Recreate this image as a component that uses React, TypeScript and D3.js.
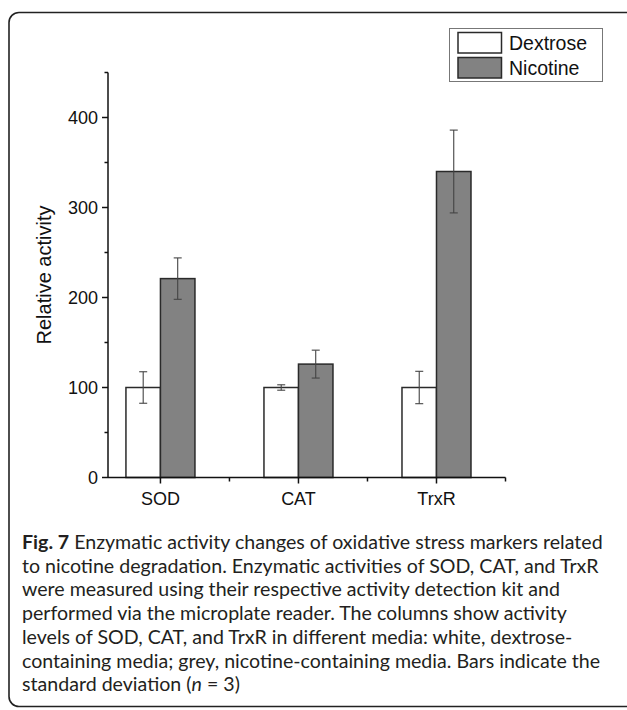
import React, { useEffect, useRef } from 'react';
import * as d3 from 'd3';

// data
const categories = ['SOD', 'CAT', 'TrxR'];
const dextrose = [100, 100, 100];
const dextroseSd = [17.5, 3, 18];
const nicotine = [221, 126, 340];
const nicotineSd = [23, 15.5, 46];
const seriesNames = ['Dextrose', 'Nicotine'];
const seriesFills = ['#ffffff', '#828282'];
const yMajorTicks = [0, 100, 200, 300, 400];
const yMinorTicks = [50, 150, 250, 350, 450];
const xMinorTicks = [1.5, 2.5, 3.5];

const captionLines = [
  'Enzymatic activity changes of oxidative stress markers related',
  'to nicotine degradation. Enzymatic activities of SOD, CAT, and TrxR',
  'were measured using their respective activity detection kit and',
  'performed via the microplate reader. The columns show activity',
  'levels of SOD, CAT, and TrxR in different media: white, dextrose-',
  'containing media; grey, nicotine-containing media. Bars indicate the',
];

const App = () => {
  const chart = useRef<SVGSVGElement>(null);

  useEffect(() => {
    const svg = d3.select(chart.current);
    svg.selectAll('*').remove();

    const font = 'Liberation Sans, Arial, sans-serif';

    // frame
    svg
      .append('rect')
      .attr('x', 9)
      .attr('y', 12.5)
      .attr('width', 630)
      .attr('height', 694)
      .attr('rx', 10)
      .attr('fill', 'none')
      .attr('stroke', '#222')
      .attr('stroke-width', 1.6);

    const x = d3.scaleLinear().domain([0.62, 3.5]).range([108, 505.5]);
    const y = d3.scaleLinear().domain([0, 450]).range([477.5, 72.5]);
    const bw = x(1.25) - x(1);

    const g = svg.append('g');

    // bars
    const bars = categories.flatMap((c, i) => [
      { c, i, s: 0, v: dextrose[i], sd: dextroseSd[i] },
      { c, i, s: 1, v: nicotine[i], sd: nicotineSd[i] },
    ]);

    g.selectAll('rect.bar')
      .data(bars)
      .enter()
      .append('rect')
      .attr('class', 'bar')
      .attr('x', (d) => (d.s === 0 ? x(d.i + 1) - bw : x(d.i + 1)))
      .attr('y', (d) => y(d.v))
      .attr('width', bw)
      .attr('height', (d) => y(0) - y(d.v))
      .attr('fill', (d) => seriesFills[d.s])
      .attr('stroke', '#2a2a2a')
      .attr('stroke-width', 1.5);

    // error bars
    const eb = g
      .selectAll('g.err')
      .data(bars)
      .enter()
      .append('g')
      .attr('class', 'err')
      .attr('stroke', '#444')
      .attr('stroke-width', 1.1);
    const cx = (d: any) => (d.s === 0 ? x(d.i + 1) - bw / 2 : x(d.i + 1) + bw / 2);
    eb.append('line')
      .attr('x1', cx)
      .attr('x2', cx)
      .attr('y1', (d) => y(d.v + d.sd))
      .attr('y2', (d) => y(d.v - d.sd));
    eb.append('line')
      .attr('x1', (d) => cx(d) - 4)
      .attr('x2', (d) => cx(d) + 4)
      .attr('y1', (d) => y(d.v + d.sd))
      .attr('y2', (d) => y(d.v + d.sd));
    eb.append('line')
      .attr('x1', (d) => cx(d) - 4)
      .attr('x2', (d) => cx(d) + 4)
      .attr('y1', (d) => y(d.v - d.sd))
      .attr('y2', (d) => y(d.v - d.sd));

    // y axis
    const yAxis = svg.append('g').attr('stroke', '#111').attr('stroke-width', 1.5);
    yAxis.append('line').attr('x1', x(0.62)).attr('x2', x(0.62)).attr('y1', y(450)).attr('y2', y(0));
    yAxis
      .selectAll('line.maj')
      .data(yMajorTicks)
      .enter()
      .append('line')
      .attr('x1', x(0.62) - 6)
      .attr('x2', x(0.62))
      .attr('y1', (d) => y(d))
      .attr('y2', (d) => y(d));
    yAxis
      .selectAll('line.min')
      .data(yMinorTicks)
      .enter()
      .append('line')
      .attr('class', 'min')
      .attr('x1', x(0.62) - 3.5)
      .attr('x2', x(0.62))
      .attr('y1', (d) => y(d))
      .attr('y2', (d) => y(d));
    svg
      .append('g')
      .selectAll('text')
      .data(yMajorTicks)
      .enter()
      .append('text')
      .attr('x', x(0.62) - 10)
      .attr('y', (d) => y(d) + 6.5)
      .attr('text-anchor', 'end')
      .attr('font-family', font)
      .attr('font-size', 18)
      .attr('fill', '#111')
      .text((d) => d);

    svg
      .append('text')
      .attr('transform', `translate(51,${(y(0) + y(450)) / 2}) rotate(-90)`)
      .attr('text-anchor', 'middle')
      .attr('font-family', font)
      .attr('font-size', 20)
      .attr('fill', '#111')
      .text('Relative activity');

    // x axis
    const xAxis = svg.append('g').attr('stroke', '#111').attr('stroke-width', 1.5);
    xAxis.append('line').attr('x1', x(0.62)).attr('x2', x(3.5)).attr('y1', y(0)).attr('y2', y(0));
    xAxis
      .selectAll('line.maj')
      .data(categories)
      .enter()
      .append('line')
      .attr('x1', (_d, i) => x(i + 1))
      .attr('x2', (_d, i) => x(i + 1))
      .attr('y1', y(0))
      .attr('y2', y(0) + 6);
    xAxis
      .selectAll('line.min')
      .data(xMinorTicks)
      .enter()
      .append('line')
      .attr('class', 'min')
      .attr('x1', (d) => x(d))
      .attr('x2', (d) => x(d))
      .attr('y1', y(0))
      .attr('y2', y(0) + 4);
    svg
      .append('g')
      .selectAll('text')
      .data(categories)
      .enter()
      .append('text')
      .attr('x', (_d, i) => x(i + 1))
      .attr('y', y(0) + 27)
      .attr('text-anchor', 'middle')
      .attr('font-family', font)
      .attr('font-size', 18)
      .attr('fill', '#111')
      .text((d) => d);

    // legend
    const lg = svg.append('g');
    lg.append('rect')
      .attr('x', 449.5)
      .attr('y', 28.5)
      .attr('width', 153)
      .attr('height', 53)
      .attr('fill', '#fff')
      .attr('stroke', '#777')
      .attr('stroke-width', 1);
    seriesNames.forEach((name, i) => {
      lg.append('rect')
        .attr('x', 458)
        .attr('y', 32.5 + i * 25)
        .attr('width', 43.5)
        .attr('height', 20.5)
        .attr('fill', seriesFills[i])
        .attr('stroke', '#2a2a2a')
        .attr('stroke-width', 1.5);
      lg.append('text')
        .attr('x', 509)
        .attr('y', 50 + i * 25)
        .attr('font-family', font)
        .attr('font-size', 19.5)
        .attr('fill', '#111')
        .text(name);
    });

    // caption
    const cap = svg
      .append('g')
      .attr('font-family', 'Lato, sans-serif')
      .attr('font-size', 19.6)
      .attr('fill', '#231f20');
    const top = 549;
    const step = 23.7;
    const first = cap.append('text').attr('x', 22).attr('y', top);
    first.append('tspan').attr('font-weight', 'bold').text('Fig. 7');
    first.append('tspan').text(' ' + captionLines[0]);
    captionLines.slice(1).forEach((line, i) => {
      cap.append('text').attr('x', 22).attr('y', top + (i + 1) * step).text(line);
    });
    const last = cap.append('text').attr('x', 22).attr('y', top + 6 * step);
    last.append('tspan').text('standard deviation (');
    last.append('tspan').attr('font-style', 'italic').text('n');
    last.append('tspan').text(' = 3)');
  }, []);

  return (
    <svg
      ref={chart}
      width={627}
      height={710}
      style={{ position: 'absolute', left: 0, top: 0, background: '#fff' }}
    />
  );
};

export default App;
